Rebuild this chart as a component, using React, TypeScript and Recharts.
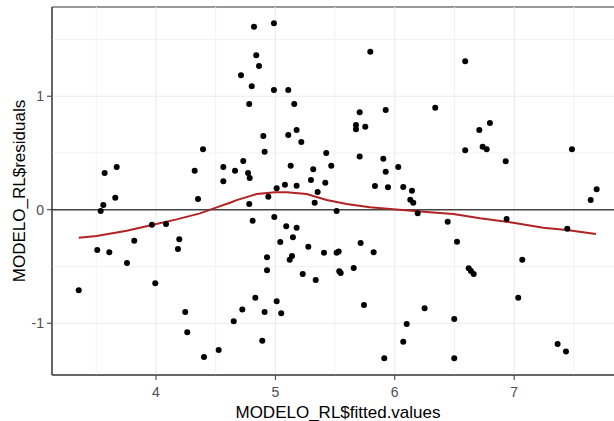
import {
  ReferenceArea,
  ReferenceLine,
  Scatter,
  ScatterChart,
  XAxis,
  YAxis,
} from "recharts";

// fitted values / residuals
const fittedValues = [
  3.353, 3.508, 3.537, 3.559, 3.57, 3.609, 3.659, 3.671, 3.757, 3.818,
  3.966, 3.994, 4.084, 4.184, 4.195, 4.245, 4.262, 4.324, 4.352, 4.394,
  4.402, 4.525, 4.564, 4.564, 4.651, 4.662, 4.712, 4.723, 4.731, 4.771,
  4.785, 4.781, 4.781, 4.802, 4.81, 4.821, 4.832, 4.84, 4.863, 4.89,
  4.899, 4.91, 4.91, 4.93, 4.93, 4.941, 4.988, 4.988, 4.991, 5.011,
  5.011, 5.041, 5.049, 5.08, 5.091, 5.108, 5.108, 5.12, 5.128, 5.139,
  5.147, 5.158, 5.178, 5.178, 5.178, 5.217, 5.229, 5.276, 5.298, 5.317,
  5.329, 5.338, 5.354, 5.407, 5.418, 5.426, 5.468, 5.513, 5.513, 5.53,
  5.535, 5.547, 5.656, 5.675, 5.675, 5.706, 5.706, 5.714, 5.742, 5.753,
  5.795, 5.823, 5.834, 5.904, 5.912, 5.924, 5.924, 5.943, 6.029, 6.071,
  6.071, 6.1, 6.13, 6.144, 6.155, 6.192, 6.25, 6.339, 6.443, 6.498,
  6.498, 6.521, 6.59, 6.59, 6.619, 6.638, 6.661, 6.708, 6.736, 6.77,
  6.797, 6.929, 6.937, 7.034, 7.068, 7.364, 7.434, 7.445, 7.484, 7.641,
  7.691,
];

const residuals = [
  -0.71, -0.355, -0.011, 0.041, 0.323, -0.375, 0.106, 0.376, -0.47, -0.273,
  -0.132, -0.648, -0.126, -0.346, -0.261, -0.901, -1.08, 0.344, 0.094, 0.532,
  -1.298, -1.236, 0.376, 0.25, -0.983, 0.344, 1.184, -0.878, 0.429, 0.323,
  0.279, 0.931, 0.05, 1.087, -0.097, 1.612, -0.775, 1.36, 1.266, -1.154,
  0.649, 0.511, -0.901, -0.419, -0.534, 0.115, 1.642, 1.055, -0.064, 0.189,
  -0.807, -0.285, -0.913, 0.22, -0.146, 1.055, 0.658, -0.441, 0.388, -0.408,
  -0.243, 0.931, 0.702, 0.211, -0.159, 0.596, -0.567, -0.326, 0.262, 0.356,
  0.062, -0.619, 0.156, -0.379, 0.238, 0.5, 0.388, -0.011, -0.379, -0.367,
  -0.543, -0.558, -0.514, 0.746, 0.708, 0.858, 0.47, -0.293, -0.84, 0.731,
  1.392, -0.375, 0.209, 0.449, -1.309, 0.878, 0.335, 0.197, 0.376, 0.2,
  -1.163, -1.007, 0.088, 0.167, 0.062, -0.032, -0.869, 0.899, -0.106, -0.963,
  -1.309, -0.282, 1.307, 0.523, -0.516, -0.54, -0.567, 0.702, 0.555, 0.532,
  0.764, 0.426, -0.082, -0.775, -0.441, -1.183, -1.248, -0.167, 0.532, 0.085,
  0.18,
];

// loess smoother (geom_smooth)
const loessX = [
  3.353, 3.503, 3.755, 3.966, 4.173, 4.369, 4.508, 4.62, 4.676, 4.843, 4.997,
  5.095, 5.262, 5.43, 5.597, 5.792, 5.987, 6.295, 6.49, 6.714, 6.992, 7.244,
  7.44, 7.685,
];
const loessY = [
  -0.247, -0.232, -0.185, -0.135, -0.085, -0.032, 0.021, 0.062, 0.085, 0.138,
  0.153, 0.153, 0.138, 0.085, 0.05, 0.021, 0.004, -0.023, -0.038, -0.076,
  -0.115, -0.159, -0.179, -0.214,
];

const xTicks = [4, 5, 6, 7];
const yTicks = [-1, 0, 1];
const xMinor = [3.5, 4.5, 5.5, 6.5, 7.5];
const yMinor = [-0.5, 0.5, 1.5];
const xDomain = [3.129, 7.92];
const yDomain = [-1.456, 1.786];

const points = fittedValues.map((x, i) => ({ x, y: residuals[i] }));
const loess = loessX.map((x, i) => ({ x, y: loessY[i] }));

const FONT = "'Liberation Sans', Arial, sans-serif";

function XTitle(props: any) {
  const vb = props.viewBox;
  return (
    <text x={vb.x + vb.width / 2} y={418} textAnchor="middle" fontSize={17} fill="#000" fontFamily={FONT}>
      MODELO_RL$fitted.values
    </text>
  );
}

function YTitle(props: any) {
  const vb = props.viewBox;
  const cy = vb.y + vb.height / 2;
  return (
    <text x={25} y={cy} transform={`rotate(-90 25 ${cy})`} textAnchor="middle" fontSize={17} fill="#000" fontFamily={FONT}>
      MODELO_RL$residuals
    </text>
  );
}

export default function App() {
  return (
    <div style={{ position: "absolute", left: 0, top: 0, width: 614, height: 421, overflow: "hidden", background: "#fff" }}>
      <ScatterChart width={630} height={421} margin={{ top: 7, right: 6, bottom: 0, left: 0 }}>
        <XAxis
          type="number"
          dataKey="x"
          domain={xDomain}
          ticks={xTicks}
          allowDataOverflow
          height={46}
          stroke="#333"
          tickSize={5}
          tickMargin={7}
          tick={{ fontSize: 14, fill: "#4D4D4D", fontFamily: FONT }}
          label={{ content: <XTitle /> }}
        />
        <YAxis
          type="number"
          dataKey="y"
          domain={yDomain}
          ticks={yTicks}
          allowDataOverflow
          width={52}
          stroke="#333"
          tickSize={5}
          tickMargin={3}
          tick={{ fontSize: 14, fill: "#4D4D4D", fontFamily: FONT }}
          label={{ content: <YTitle /> }}
        />
        {xMinor.map((v) => (
          <ReferenceLine key={"xm" + v} x={v} stroke="#F2F2F2" strokeWidth={1} />
        ))}
        {yMinor.map((v) => (
          <ReferenceLine key={"ym" + v} y={v} stroke="#F2F2F2" strokeWidth={1} />
        ))}
        {xTicks.map((v) => (
          <ReferenceLine key={"x" + v} x={v} stroke="#EBEBEB" strokeWidth={1.1} />
        ))}
        {yTicks.map((v) => (
          <ReferenceLine key={"y" + v} y={v} stroke="#EBEBEB" strokeWidth={1.1} />
        ))}
        <ReferenceArea x1={xDomain[0]} x2={xDomain[1]} y1={yDomain[0]} y2={yDomain[1]} fill="none" stroke="#333" strokeWidth={1} />
        <ReferenceLine y={0} stroke="#444" strokeWidth={1.4} />
        <Scatter
          data={loess}
          line={{ stroke: "#B22222", strokeWidth: 2 }}
          lineType="joint"
          shape={() => <g />}
          isAnimationActive={false}
        />
        <Scatter
          data={points}
          shape={(p: any) => <circle cx={p.cx} cy={p.cy} r={3} fill="#000" />}
          isAnimationActive={false}
        />
      </ScatterChart>
    </div>
  );
}
